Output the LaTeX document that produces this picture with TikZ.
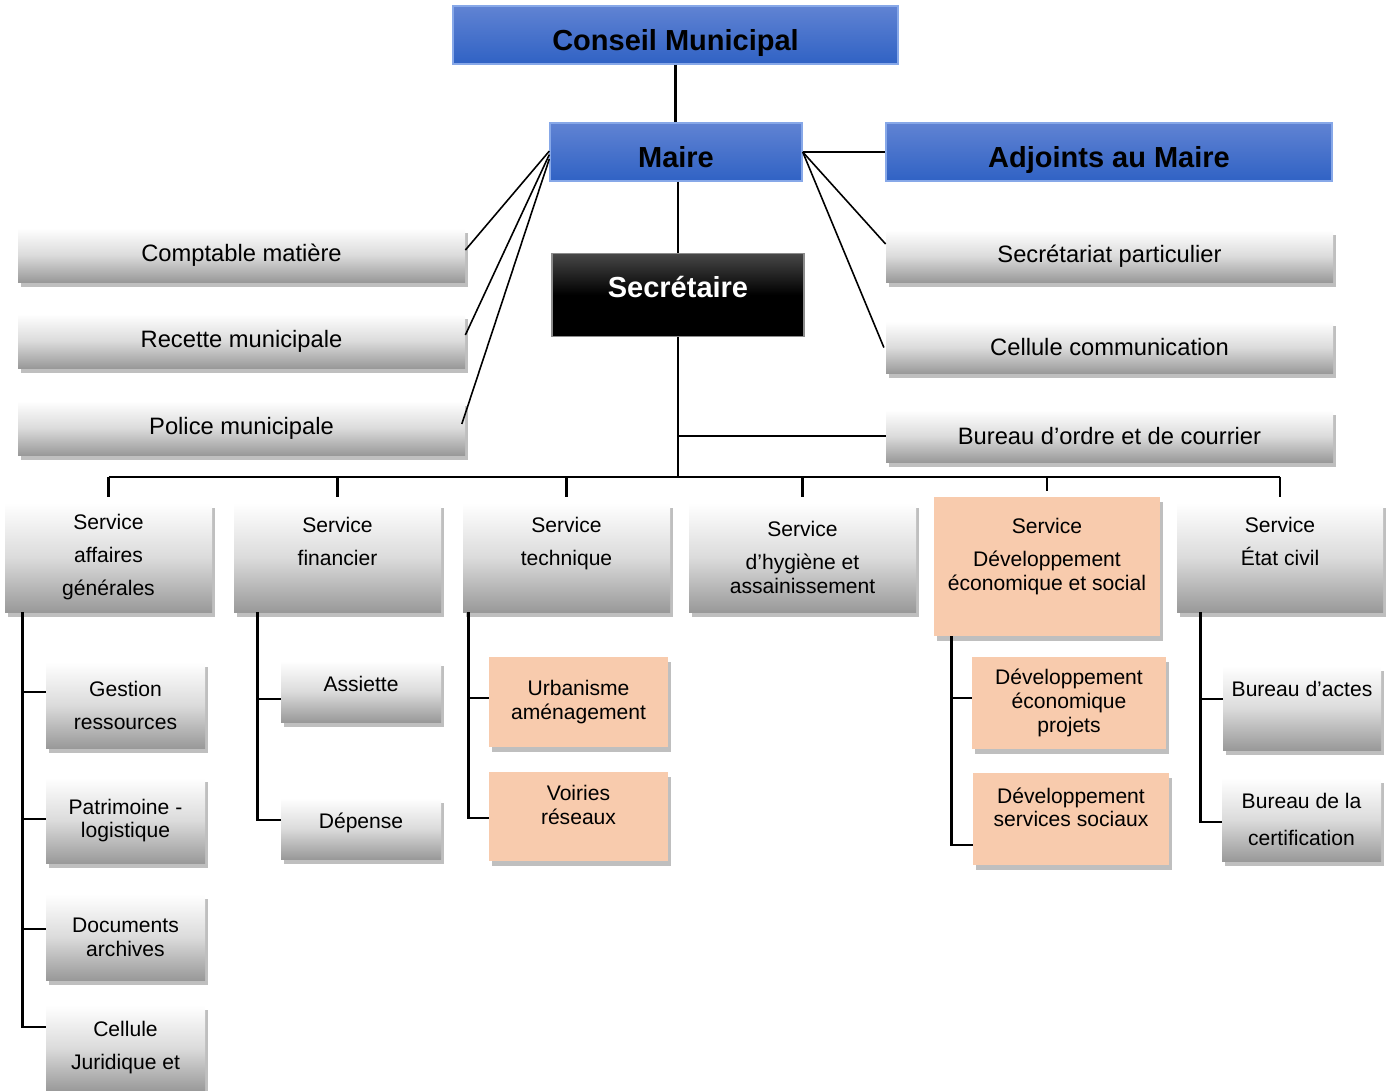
\documentclass[tikz,border=0pt]{standalone}
\usepackage{fontspec}
\setmainfont{Liberation Sans}
\usepackage{tikz}
\usetikzlibrary{shadows, calc}
\definecolor{cmblueA}{RGB}{96, 131, 211}
\definecolor{cmblueB}{RGB}{48, 98, 196}
\definecolor{cmblueline}{RGB}{135, 168, 232}
\definecolor{peach}{RGB}{248, 203, 173}

\begin{document}
\begin{tikzpicture}[x=0.02cm, y=-0.02cm,
  boxsize/.style 2 args={minimum width=#1*0.02cm, minimum height=#2*0.02cm},
  shadowed/.style={drop shadow={shadow xshift=1.7pt, shadow yshift=-2.6pt, fill=black!25, opacity=1}},
  greybox/.style={shadowed, shade, top color=white, bottom color=black!40, middle color=black!14, inner sep=0pt, align=center, font=\fontsize{12}{13.5}\selectfont},
  sidebox/.style={greybox, font=\fontsize{13.5}{16}\selectfont},
  orangebox/.style={shadowed, fill=peach, inner sep=0pt, align=center, font=\fontsize{12}{13.5}\selectfont},
  bluebox/.style={shade, top color=cmblueA, bottom color=cmblueB, draw=cmblueline, line width=0.8pt, inner sep=0pt, font=\fontsize{16.5}{20}\bfseries\selectfont, text height=17.5pt, text depth=0pt},
  blackbox/.style={shade, top color=black!72, bottom color=black, middle color=black, draw=black!45, line width=0.8pt, inner sep=0pt, text=white, font=\fontsize{16.5}{20}\bfseries\selectfont, text height=8pt, text depth=5.2pt},
  link/.style={line width=1.3pt},
  diag/.style={line width=0.9pt}]

  \useasboundingbox (0,0) rectangle (1389,1091);

  % Direction
  \node[bluebox, boxsize={445}{58}] (cm) at (675.5,35) {Conseil Municipal};
  \node[bluebox, boxsize={252}{58}] (maire) at (676,152) {Maire};
  \node[bluebox, boxsize={446}{58}] (adj) at (1109,152) {Adjoints au Maire};
  \node[blackbox, boxsize={252}{83}] (secr) at (678,295) {Secrétaire};

  % Rattachés au Maire
  \node[sidebox, boxsize={447}{54}] (cpt) at (241.5,255) {Comptable matière};
  \node[sidebox, boxsize={447}{54}] (rec) at (241.5,341) {Recette municipale};
  \node[sidebox, boxsize={447}{54}] (pol) at (241.5,428) {Police municipale};
  \node[sidebox, boxsize={447}{52}] (spart) at (1109.5,256) {Secrétariat particulier};
  \node[sidebox, boxsize={447}{52}] (ccom) at (1109.5,347.5) {Cellule communication};
  \node[sidebox, boxsize={447}{52}] (bord) at (1109.5,436) {Bureau d’ordre et de courrier};

  % Services
  \node[greybox, boxsize={207}{109}] (sag) at (108.5,557.5) {Service\\[5.3pt]affaires\\[5.3pt]générales};
  \node[greybox, boxsize={207}{109}] (sfin) at (337.5,557.5) {Service\\[5.3pt]financier\\[5.3pt]~};
  \node[greybox, boxsize={207}{109}] (stech) at (566.5,557.5) {Service\\[5.3pt]technique\\[5.3pt]~};
  \node[greybox, boxsize={227}{109}] (shyg) at (802.5,557.5) {Service\\[5.3pt]d’hygiène et\\assainissement};
  \node[orangebox, boxsize={226}{139}] (sdes) at (1047,566.5) {Service\\[5.3pt]Développement\\économique et social\\~};
  \node[greybox, boxsize={206}{109}] (setc) at (1280,557.5) {Service\\[5.3pt]État civil\\[5.3pt]~};

  % Sous-services
  \node[greybox, boxsize={159}{86}] (gres) at (125.5,705) {Gestion\\[5.3pt]ressources};
  \node[greybox, boxsize={159}{86}] (patr) at (125.5,820.5) {Patrimoine -\\logistique};
  \node[greybox, boxsize={159}{86}] (doc) at (125.5,937) {Documents\\archives};
  \node[greybox, boxsize={159}{86}] (cjur) at (125.5,1048) {Cellule\\[5.3pt]Juridique et};
  \node[greybox, boxsize={160}{61}, text height=8pt, text depth=8pt] (assi) at (361,691.5) {Assiette};
  \node[greybox, boxsize={160}{61}, text height=8pt, text depth=8pt] (dep) at (361,828.5) {Dépense};
  \node[orangebox, boxsize={179}{90}] (urb) at (578.5,702) {Urbanisme\\aménagement};
  \node[orangebox, boxsize={179}{89}] (voi) at (578.5,816.5) {Voiries\\réseaux\\~};
  \node[orangebox, boxsize={194}{92}] (dep1) at (1069,703) {Développement\\économique\\projets};
  \node[orangebox, boxsize={196}{92}] (dep2) at (1071,819) {Développement\\services sociaux\\~};
  \node[greybox, boxsize={158}{84}, text height=4pt, text depth=17pt] (bact) at (1302,708) {Bureau d’actes};
  \node[greybox, boxsize={159}{83}] (bcert) at (1301.5,819.5) {Bureau de la\\[7.5pt]certification};

  % Liaisons
  \draw[link] (cm.south) -- (cm.south |- maire.north);
  \draw[link] (secr.north |- maire.south) -- (secr.north);
  \draw[link] (maire.east) -- (adj.west);
  \draw[diag] (maire.east) -- ([yshift=6.8pt]spart.west);
  \draw[diag] (maire.east) -- ([xshift=-1pt]ccom.west);
  \draw[diag] ([yshift=0.5pt]maire.west) -- ([yshift=2.8pt]cpt.east);
  \draw[diag] ([yshift=-1.5pt]maire.west) -- ([yshift=3.4pt]rec.east);
  \draw[diag] ([yshift=-4pt]maire.west) -- ([xshift=-2pt, yshift=2.3pt]pol.east);

  \coordinate (bus) at (0,477);
  \draw[link] (secr.south) -- (secr.south |- bus);
  \draw[link] (secr.south |- bord.west) -- (bord.west);
  \draw[link] (sag.north |- bus) -- (setc.north |- bus);
  \foreach \s in {sag, sfin, stech, shyg, sdes, setc}
    \draw[link] (\s.north |- bus) -- ([yshift=3pt]\s.north);

  \foreach \t/\y in {gres/692, patr/819, doc/929, cjur/1027}
    \draw[link] ([xshift=10.2pt]sag.south west) |- (\t.west |- 0,\y);
  \foreach \t/\y in {assi/699, dep/820}
    \draw[link] ([xshift=13.6pt]sfin.south west) |- (\t.west |- 0,\y);
  \foreach \t/\y in {urb/698, voi/818}
    \draw[link] ([xshift=3.4pt]stech.south west) |- (\t.west |- 0,\y);
  \foreach \t/\y in {dep1/698, dep2/845}
    \draw[link] ([xshift=10.2pt]sdes.south west) |- (\t.west |- 0,\y);
  \foreach \t/\y in {bact/699, bcert/822}
    \draw[link] ([xshift=13.6pt]setc.south west) |- (\t.west |- 0,\y);
\end{tikzpicture}
\end{document}
